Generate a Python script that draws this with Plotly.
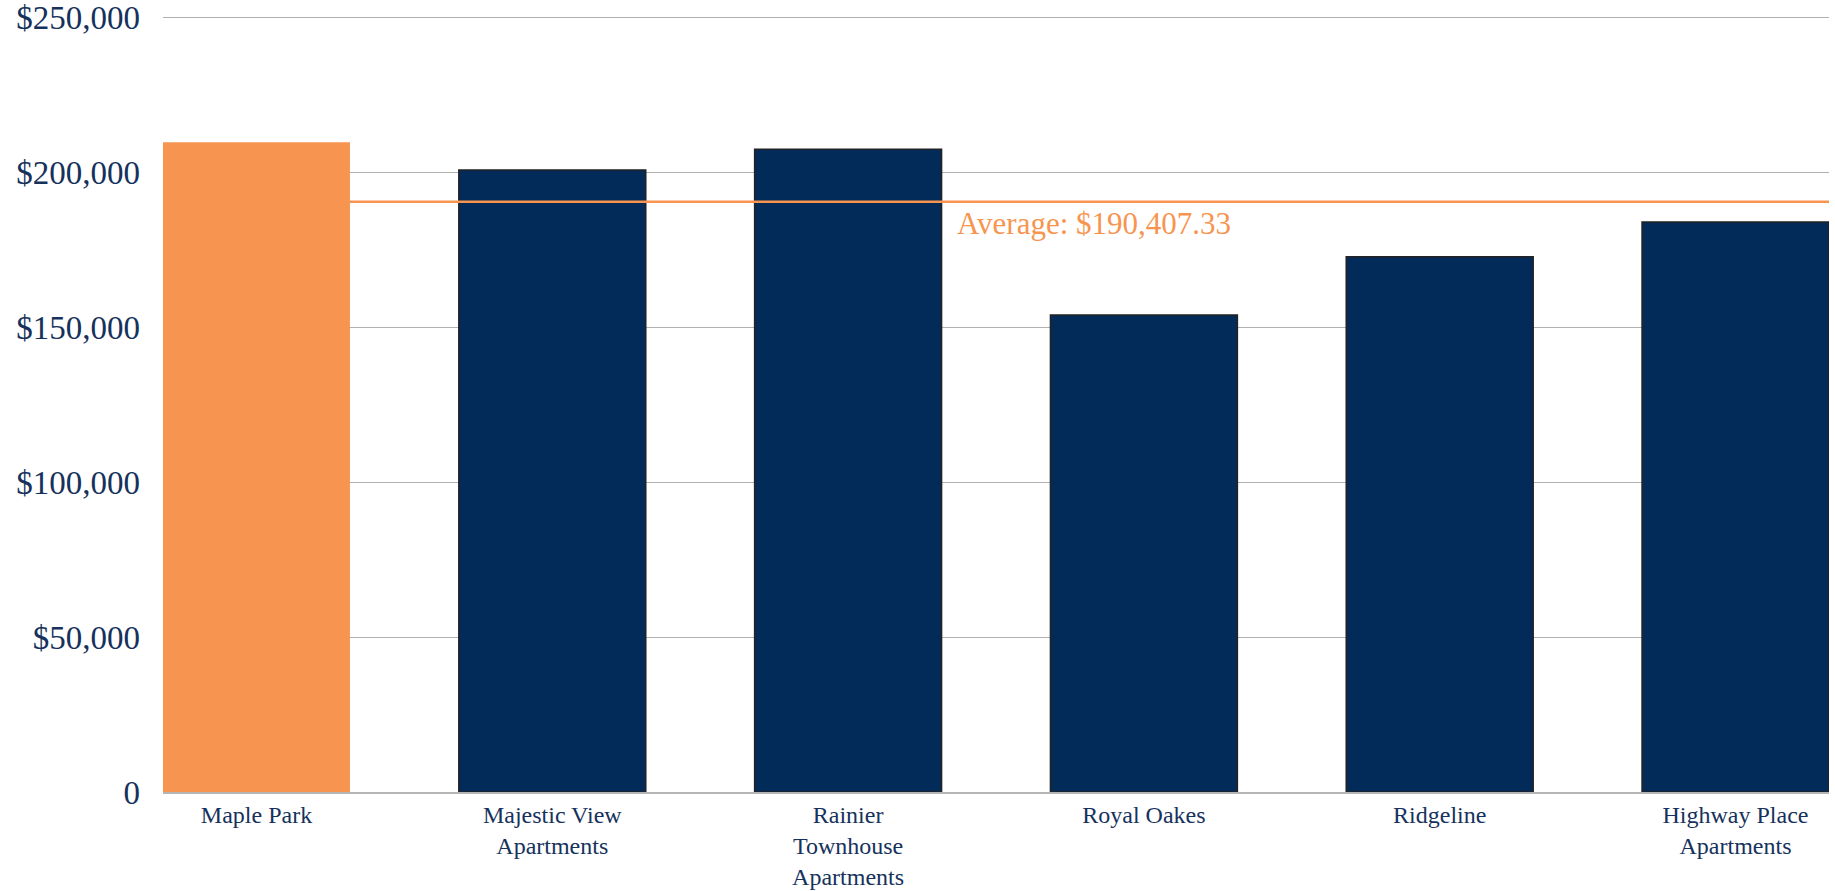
import plotly.graph_objects as go

# Property values by community
properties = [
    "Maple Park",
    "Majestic View<br>Apartments",
    "Rainier<br>Townhouse<br>Apartments",
    "Royal Oakes",
    "Ridgeline",
    "Highway Place<br>Apartments",
]
values = [209600, 200700, 207400, 153900, 172700, 183900]

average_value = 190407.33
average_label = "Average: $190,407.33"

y_tickvals = [0, 50000, 100000, 150000, 200000, 250000]
y_ticktext = ["0", "$50,000", "$100,000", "$150,000", "$200,000", "$250,000"]

NAVY = "#022b5a"
ORANGE = "#f79550"
TEXT = "#16325c"
FONT = "Liberation Serif"

bar_colors = [ORANGE] + [NAVY] * (len(properties) - 1)
outline_colors = [ORANGE] + ["#222222"] * (len(properties) - 1)
outline_widths = [0] + [1.5] * (len(properties) - 1)

fig = go.Figure()
fig.add_trace(
    go.Bar(
        x=properties,
        y=values,
        marker=dict(
            color=bar_colors,
            line=dict(color=outline_colors, width=outline_widths),
        ),
        hoverinfo="x+y",
    )
)

# Average reference line across the whole plot
fig.add_shape(
    type="line",
    xref="paper", x0=0, x1=1,
    yref="y", y0=average_value, y1=average_value,
    line=dict(color=ORANGE, width=2.5),
    layer="above",
)
fig.add_annotation(
    x=2.36, xref="x",
    y=average_value, yref="y",
    xanchor="left", yanchor="top",
    yshift=-2,
    text=average_label,
    showarrow=False,
    font=dict(family=FONT, size=31, color=ORANGE),
)

fig.update_layout(
    width=1835,
    height=891,
    margin=dict(l=163, r=6, t=14, b=99),
    paper_bgcolor="white",
    plot_bgcolor="white",
    showlegend=False,
    bargap=0.368,
    font=dict(family=FONT, color=TEXT),
)
fig.update_xaxes(
    range=[-0.316, 5.316],
    automargin=False,
    showgrid=False,
    showline=True,
    linecolor="#b5b5b5",
    linewidth=1.5,
    ticks="",
    tickfont=dict(family=FONT, size=24, color=TEXT),
    ticklabelstandoff=0,
    ticklabeloverflow="allow",
)
fig.update_yaxes(
    range=[0, 251000],
    automargin=False,
    tickvals=y_tickvals,
    ticktext=y_ticktext,
    showgrid=True,
    gridcolor="#b0b0b0",
    gridwidth=1,
    zeroline=False,
    showline=False,
    ticks="",
    tickfont=dict(family=FONT, size=33, color=TEXT),
    ticklabelstandoff=22,
    ticklabeloverflow="allow",
)

fig.write_html("out.html")
